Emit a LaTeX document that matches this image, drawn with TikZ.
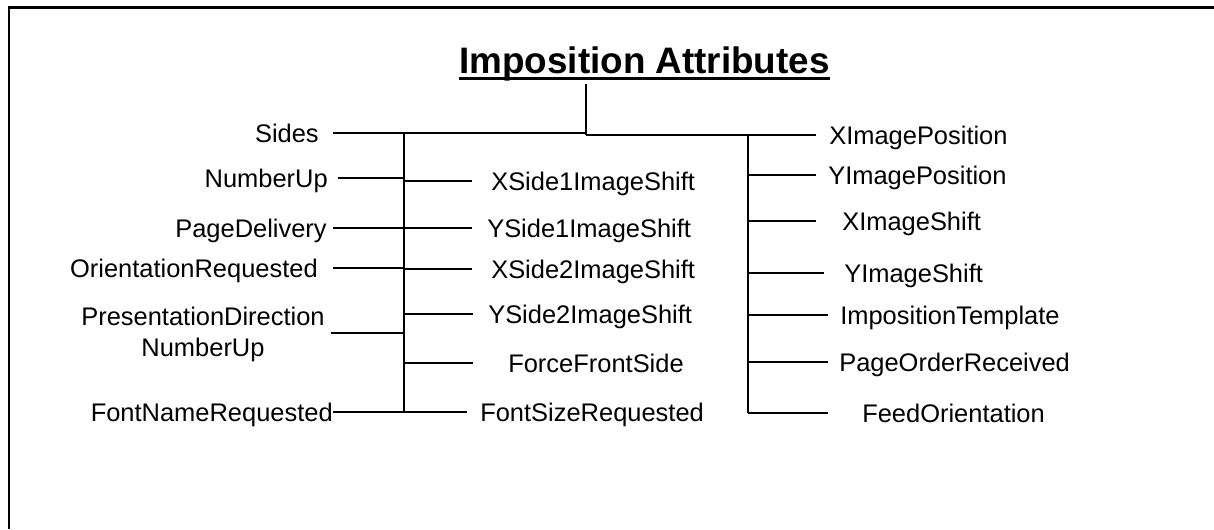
\documentclass[tikz,border=0pt]{standalone}
\usepackage{fontspec}
\setmainfont{Liberation Sans}
\usetikzlibrary{positioning}

\begin{document}
\begin{tikzpicture}[
          x=0.025cm, y=-0.025cm,
          attr/.style={inner sep=0pt, font=\fontsize{18.1}{22}\selectfont, text height=12.96pt, text depth=0pt},
          twoline/.style={inner sep=0pt, font=\fontsize{18.1}{22}\selectfont, align=center},
          heading/.style={inner sep=0pt, font=\fontsize{26.2}{30}\selectfont\bfseries},
          link/.style={black, line width=1.5pt}
        ]
          \useasboundingbox (0,0) rectangle (1214,529);
          \draw[link] (9,529) -- (9,7.5) -- (1214,7.5);

          \node (title) [heading, anchor=base west] at (459,73.5) {Imposition Attributes};
          \draw[line width=2.1pt] ([yshift=-3.6pt]title.base west) -- ([yshift=-3.6pt]title.base east);

          \coordinate (root) at (586,84);
          \coordinate (rootL) at (586,133);
          \coordinate (rootR) at (586,135);
          \coordinate (ltrunk) at (404,133);
          \coordinate (rtrunk) at (748,135);

          \node (sides) [attr, anchor=east] at (319,133) {Sides};
          \node (numup) [attr, anchor=east] at (328,178) {NumberUp};
          \node (pagedel) [attr, anchor=east] at (327,228) {PageDelivery};
          \node (orient) [attr, anchor=east] at (318,268) {OrientationRequested};
          \node (presdir) [twoline, anchor=north] at (203,307) {PresentationDirection\\NumberUp};
          \node (fontname) [attr, anchor=east] at (333,412) {FontNameRequested};

          \node (xs1shift) [attr, anchor=west] at (491,181) {XSide1ImageShift};
          \node (ys1shift) [attr, anchor=west] at (487,228) {YSide1ImageShift};
          \node (xs2shift) [attr, anchor=west] at (491,269) {XSide2ImageShift};
          \node (ys2shift) [attr, anchor=west] at (488,314) {YSide2ImageShift};
          \node (frontside) [attr, anchor=west] at (508,363) {ForceFrontSide};
          \node (fontsize) [attr, anchor=west] at (480,412) {FontSizeRequested};

          \node (ximgpos) [attr, anchor=west] at (829,135) {XImagePosition};
          \node (yimgpos) [attr, anchor=west] at (828,175) {YImagePosition};
          \node (ximgshift) [attr, anchor=west] at (842,221) {XImageShift};
          \node (yimgshift) [attr, anchor=west] at (844,273) {YImageShift};
          \node (template) [attr, anchor=west] at (840,315) {ImpositionTemplate};
          \node (pageorder) [attr, anchor=west] at (839,362) {PageOrderReceived};
          \node (feedor) [attr, anchor=west] at (862,413) {FeedOrientation};

          \draw[link] (root) -- (rootR);
          \draw[link] (sides.east) ++(14,0) -- (rootL);
          \draw[link] (ximgpos.west) ++(-13,0) -- (rootR);
          \draw[link] (ltrunk) -- (ltrunk |- fontname);
          \draw[link] (rtrunk) -- (rtrunk |- feedor);

          \draw[link] (numup.east) ++(10,0) -- (numup -| ltrunk);
          \draw[link] (pagedel.east) ++(6,0) -- (pagedel -| ltrunk);
          \draw[link] (orient.east) ++(15,0) -- (orient -| ltrunk);
          \draw[link] ([yshift=1.4pt]presdir.east) ++(6,0) -- ([yshift=1.4pt]presdir.east -| ltrunk);
          \draw[link] (fontname.east) -- (fontname -| ltrunk);

          \draw[link] (xs1shift.west) ++(-19,0) -- (xs1shift -| ltrunk);
          \draw[link] (ys1shift.west) ++(-15,0) -- (ys1shift -| ltrunk);
          \draw[link] (xs2shift.west) ++(-19,0) -- (xs2shift -| ltrunk);
          \draw[link] (ys2shift.west) ++(-15,0) -- (ys2shift -| ltrunk);
          \draw[link] (frontside.west) ++(-35,0) -- (frontside -| ltrunk);
          \draw[link] (fontsize.west) ++(-13,0) -- (fontsize -| ltrunk);

          \draw[link] (yimgpos.west) ++(-12,0) -- (yimgpos -| rtrunk);
          \draw[link] (ximgshift.west) ++(-26,0) -- (ximgshift -| rtrunk);
          \draw[link] (yimgshift.west) ++(-20,0) -- (yimgshift -| rtrunk);
          \draw[link] (template.west) ++(-12,0) -- (template -| rtrunk);
          \draw[link] (pageorder.west) ++(-11,0) -- (pageorder -| rtrunk);
          \draw[link] (feedor.west) ++(-34,0) -- (feedor -| rtrunk);
        \end{tikzpicture}
\end{document}
